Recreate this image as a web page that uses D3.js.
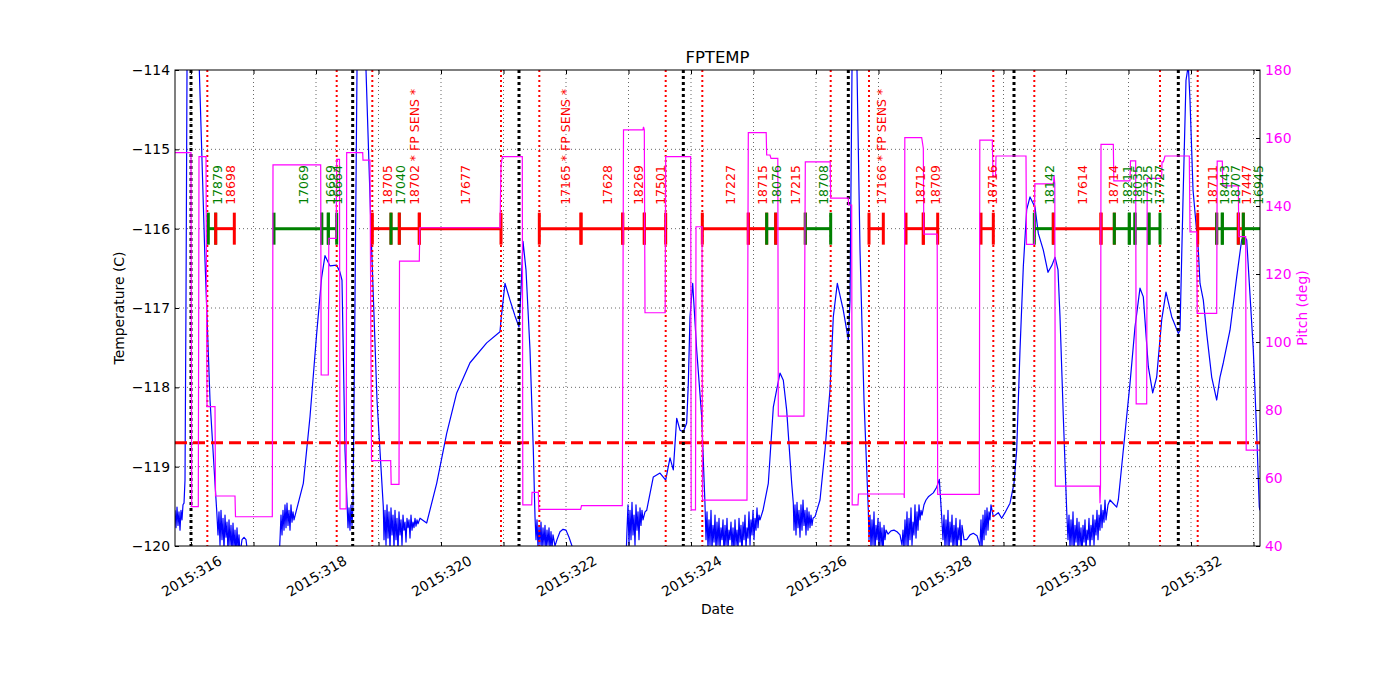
<!DOCTYPE html>
<html><head><meta charset="utf-8">
<script src="https://cdn.jsdelivr.net/npm/d3@7"></script>
<style>body{margin:0;background:#fff} text{font-family:"DejaVu Sans",sans-serif}</style>
</head><body><svg id="c" width="1400" height="700"></svg>
<script>
// ---------------- data ----------------
const chartTitle = "FPTEMP";
const dayTicks = [316,317,318,319,320,321,322,323,324,325,326,327,328,329,330,331,332,333];
const dayLabels = ["2015:316","","2015:318","","2015:320","","2015:322","","2015:324","","2015:326","","2015:328","","2015:330","","2015:332",""];
const tempTicks = [-120,-119,-118,-117,-116,-115,-114];
const pitchTicks = [40,60,80,100,120,140,160,180];
const tempLimit = -118.7;
const radZoneTimes = [316.261,318.331,318.901,320.960,321.573,323.595,324.181,326.235,326.848,328.837,329.493,331.504,332.107];
const perigeeTimes = [316.000,318.587,321.248,323.877,326.517,329.168,331.797];
const obsStart = [316.277,316.395,317.328,318.091,318.197,318.901,319.200,319.333,319.653,321.573,322.240,322.907,323.253,324.181,324.917,325.211,325.355,325.829,326.848,327.440,327.717,328.640,329.493,329.797,330.560,330.773,331.013,331.104,331.328,332.107,332.411,332.501,332.757,332.837];
const obsStop  = [316.395,316.693,318.091,318.197,318.331,319.200,319.333,319.653,320.960,322.240,322.907,323.253,323.595,324.917,325.211,325.355,325.829,326.235,327.077,327.717,327.947,328.837,329.797,330.560,330.773,331.013,331.104,331.328,331.504,332.411,332.501,332.757,332.837,333.144];
const obsKind  = ["g","r","g","g","g","r","g","r","r","r","r","r","r","r","r","g","r","g","r","r","r","r","g","r","r","g","g","g","g","r","g","g","r","g"];
const obsLabel = ["17879","18698","17069","16669","16664","18705","17040","18702 * FP SENS *","17677","17165 * FP SENS *","17628","18269","17501","17227","18715","18076","17215","18708","17166 * FP SENS *","18712","18709","18716","18142","17614","18714","18211","18035","17325","17727","18711","18443","18707","17447","16945"];

const pitchData = [
[315.744,155.7],[316.000,155.7],[316.011,51.6],[316.117,51.6],[316.128,154.5],[316.240,154.5],[316.256,81.0],[316.384,81.0],
[316.392,54.7],[316.704,54.7],[316.712,48.6],[317.301,48.6],[317.312,152.1],[318.075,152.1],[318.083,90.3],[318.197,90.3],
[318.205,130.5],[318.323,130.5],[318.331,153.7],[318.376,153.7],[318.384,50.9],[318.483,50.9],[318.491,155.7],[318.747,155.7],
[318.752,153.5],[318.864,153.5],[318.888,65.1],[319.195,65.1],[319.203,58.1],[319.328,58.1],[319.336,123.8],[319.653,123.8],
[319.661,133.6],[320.944,133.6],[320.960,152.1],[320.984,154.5],[321.301,154.5],[321.309,52.1],[321.451,52.1],[321.456,55.8],
[321.557,55.8],[321.565,50.8],[322.235,50.8],[322.248,51.9],[322.901,51.9],[322.920,162.4],[323.232,162.4],[323.240,163.3],
[323.253,162.4],[323.264,108.6],[323.587,108.6],[323.595,154.5],[323.995,154.5],[324.003,50.6],[324.072,50.6],[324.080,133.9],
[324.176,133.9],[324.184,53.5],[324.896,53.5],[324.917,161.6],[325.203,161.6],[325.211,155.0],[325.264,155.0],[325.280,154.0],
[325.389,154.0],[325.397,78.2],[325.808,78.2],[325.829,153.0],[326.227,153.0],[326.235,142.3],[326.517,142.3],[326.520,140.3],
[326.571,140.3],[326.579,52.1],[326.672,52.1],[326.680,55.3],[327.408,55.3],[327.413,54.1],[327.421,160.1],[327.691,160.1],
[327.717,157.0],[327.725,131.7],[327.939,131.7],[327.947,55.2],[328.613,55.2],[328.621,159.4],[328.821,159.4],[328.832,148.6],
[328.872,148.6],[328.880,154.7],[329.360,154.7],[329.368,128.7],[329.493,128.7],[329.501,146.5],[329.800,146.5],[329.808,149.1],
[329.821,146.5],[329.829,57.6],[330.539,57.6],[330.544,52.6],[330.552,57.6],[330.560,158.1],[330.757,158.1],[330.765,147.4],
[331.024,147.4],[331.032,153.3],[331.115,153.3],[331.123,81.8],[331.291,81.8],[331.299,148.1],[331.531,148.1],[331.536,153.0],
[331.557,153.0],[331.584,154.7],[331.973,154.7],[331.984,132.4],[332.091,132.4],[332.099,108.4],[332.411,108.4],[332.419,153.2],
[332.501,153.2],[332.509,145.9],[332.757,145.9],[332.765,131.0],[332.875,131.0],[332.883,68.2],[333.104,68.2]
];

const tempData = [
[315.744,-119.55],[315.760,-119.77],[315.776,-119.51],[315.792,-119.74],[315.808,-119.57],[315.824,-119.80],[315.840,-119.55],[315.856,-119.67],
[315.872,-119.48],[315.888,-119.46],[315.904,-119.17],[315.920,-116.90],[315.936,-114.00],[315.984,-112.49],[316.133,-114.00],[316.224,-116.40],
[316.304,-118.16],[316.384,-119.21],[316.411,-119.55],
[316.432,-119.86],[316.448,-119.57],[316.464,-119.99],[316.480,-119.55],[316.496,-119.92],[316.512,-119.65],[316.528,-120.05],[316.544,-119.61],
[316.560,-119.89],[316.576,-119.70],[316.592,-120.08],[316.608,-119.67],[316.624,-119.99],[316.640,-119.74],[316.656,-120.11],[316.672,-119.71],
[316.688,-120.03],[316.704,-119.80],[316.720,-120.11],[316.736,-119.77],[316.752,-120.05],[316.768,-119.86],[316.784,-120.11],[316.816,-119.92],
[316.848,-119.89],[316.880,-119.92],[316.912,-120.13],[317.024,-120.37],[317.264,-120.37],[317.408,-120.18],
[317.424,-119.92],[317.440,-119.61],[317.456,-119.86],[317.472,-119.55],[317.488,-119.80],[317.504,-119.48],[317.520,-119.77],[317.536,-119.46],
[317.552,-119.74],[317.568,-119.55],[317.584,-119.80],[317.600,-119.48],[317.616,-119.70],[317.632,-119.57],[317.648,-119.67],[317.664,-119.62],
[317.797,-119.21],[317.904,-118.37],[318.011,-117.32],[318.091,-116.61],[318.144,-116.34],[318.224,-116.47],[318.331,-116.46],[318.384,-116.55],
[318.416,-116.65],[318.464,-118.79],[318.512,-119.77],[318.528,-119.52],[318.544,-119.80],[318.560,-119.48],[318.576,-119.74],[318.592,-119.48],
[318.624,-116.90],[318.656,-114.00],[318.704,-112.36],[318.800,-114.00],[318.891,-116.27],[318.976,-118.16],[319.077,-119.51],
[319.088,-119.92],[319.104,-119.55],[319.120,-119.99],[319.136,-119.48],[319.152,-119.90],[319.168,-119.57],[319.184,-120.05],[319.200,-119.52],
[319.216,-119.86],[319.232,-119.61],[319.248,-120.03],[319.264,-119.55],[319.280,-119.92],[319.296,-119.65],[319.312,-120.08],[319.328,-119.57],
[319.344,-119.86],[319.360,-119.67],[319.376,-119.99],[319.392,-119.61],[319.408,-119.80],[319.424,-119.70],[319.440,-119.95],[319.456,-119.65],
[319.472,-119.77],[319.488,-119.67],[319.504,-119.90],[319.520,-119.61],[319.536,-119.80],[319.552,-119.70],[319.568,-119.77],[319.584,-119.65],
[319.600,-119.75],[319.616,-119.67],[319.632,-119.72],[319.664,-119.65],[319.771,-119.71],[319.931,-119.21],[320.091,-118.58],[320.251,-118.07],
[320.464,-117.69],[320.731,-117.44],[320.944,-117.30],[320.960,-117.15],[321.024,-116.69],[321.104,-116.90],[321.184,-117.10],[321.248,-117.24],
[321.280,-116.77],[321.312,-116.16],[321.360,-116.52],[321.424,-117.53],[321.477,-118.79],[321.504,-119.63],
[321.520,-119.92],[321.536,-119.67],[321.552,-120.03],[321.568,-119.74],[321.584,-119.99],[321.600,-119.70],[321.616,-120.05],[321.632,-119.77],
[321.648,-119.99],[321.664,-119.74],[321.680,-120.08],[321.696,-119.80],[321.712,-119.99],[321.728,-119.77],[321.744,-120.05],[321.760,-119.82],
[321.776,-120.03],[321.792,-119.86],[321.824,-120.00],[321.856,-119.92],[321.904,-119.82],[321.952,-119.79],[322.000,-119.80],[322.048,-119.89],
[322.096,-120.00],[322.144,-120.24],[322.544,-120.43],[322.960,-120.18],
[322.976,-119.80],[322.992,-119.48],[323.008,-119.99],[323.024,-119.55],[323.040,-119.92],[323.056,-119.45],[323.072,-119.86],[323.088,-119.61],
[323.104,-119.99],[323.120,-119.48],[323.136,-119.80],[323.152,-119.57],[323.168,-119.92],[323.184,-119.52],[323.200,-119.74],[323.216,-119.55],
[323.232,-119.67],[323.264,-119.57],[323.291,-119.55],[323.397,-119.13],[323.504,-119.08],[323.595,-119.17],[323.664,-118.89],[323.717,-119.04],
[323.771,-118.39],[323.824,-118.54],[323.877,-118.56],[323.931,-118.45],[323.957,-117.95],[323.984,-117.11],[324.027,-116.69],[324.091,-117.53],
[324.171,-118.37],[324.224,-119.48],
[324.240,-119.92],[324.256,-119.57],[324.272,-120.03],[324.288,-119.67],[324.304,-119.99],[324.320,-119.55],[324.336,-120.05],[324.352,-119.74],
[324.368,-119.95],[324.384,-119.61],[324.400,-120.08],[324.416,-119.70],[324.432,-119.99],[324.448,-119.65],[324.464,-120.05],[324.480,-119.77],
[324.496,-119.92],[324.512,-119.67],[324.528,-120.11],[324.544,-119.74],[324.560,-119.99],[324.576,-119.65],[324.592,-120.05],[324.608,-119.80],
[324.624,-119.92],[324.640,-119.70],[324.656,-120.03],[324.672,-119.77],[324.688,-120.08],[324.704,-119.67],[324.720,-119.99],[324.736,-119.80],
[324.752,-120.05],[324.768,-119.65],[324.784,-119.95],[324.800,-119.74],[324.816,-120.11],[324.832,-119.70],[324.848,-119.92],[324.864,-119.61],
[324.880,-120.03],[324.896,-119.77],[324.912,-119.90],[324.928,-119.57],[324.944,-119.99],[324.960,-119.67],[324.976,-119.86],[324.992,-119.55],
[325.008,-119.92],[325.024,-119.65],[325.040,-119.80],[325.056,-119.52],[325.072,-119.77],[325.088,-119.61],[325.104,-119.67],[325.152,-119.55],
[325.237,-119.21],[325.317,-118.25],[325.371,-118.03],[325.424,-117.82],[325.477,-117.91],[325.531,-118.29],[325.611,-119.21],[325.637,-119.46],
[325.648,-119.80],[325.664,-119.48],[325.680,-119.86],[325.696,-119.45],[325.712,-119.77],[325.728,-119.55],[325.744,-119.89],[325.760,-119.48],
[325.776,-119.80],[325.792,-119.42],[325.808,-119.74],[325.824,-119.55],[325.840,-119.86],[325.856,-119.52],[325.872,-119.80],[325.888,-119.57],
[325.904,-119.77],[325.920,-119.61],[325.936,-119.74],[325.952,-119.65],[325.984,-119.63],[326.064,-119.42],[326.144,-118.79],[326.224,-118.03],
[326.277,-117.11],[326.341,-116.69],[326.437,-117.03],[326.517,-117.40],[326.544,-116.90],[326.576,-114.00],[326.608,-112.11],[326.656,-114.00],
[326.704,-116.27],[326.768,-118.16],[326.837,-119.55],
[326.848,-119.92],[326.864,-119.61],[326.880,-120.03],[326.896,-119.67],[326.912,-119.99],[326.928,-119.57],[326.944,-120.08],[326.960,-119.74],
[326.976,-119.92],[326.992,-119.65],[327.008,-120.05],[327.024,-119.70],[327.040,-119.99],[327.056,-119.77],[327.072,-120.11],[327.088,-119.74],
[327.104,-119.92],[327.120,-119.80],[327.152,-119.85],[327.200,-119.81],[327.248,-119.80],[327.296,-119.82],[327.344,-119.86],[327.376,-119.99],
[327.392,-119.80],[327.408,-120.05],[327.424,-119.67],[327.440,-119.99],[327.456,-119.57],[327.472,-120.05],[327.488,-119.65],[327.504,-119.92],
[327.520,-119.52],[327.536,-119.99],[327.552,-119.70],[327.568,-119.86],[327.584,-119.48],[327.600,-119.90],[327.616,-119.57],[327.632,-119.80],
[327.648,-119.48],[327.664,-119.67],[327.680,-119.55],[327.696,-119.61],[327.728,-119.48],[327.760,-119.42],[327.797,-119.38],[327.877,-119.33],
[327.931,-119.26],[327.973,-119.16],[328.011,-119.63],
[328.032,-119.92],[328.048,-119.61],[328.064,-120.03],[328.080,-119.67],[328.096,-119.99],[328.112,-119.55],[328.128,-120.08],[328.144,-119.70],
[328.160,-119.95],[328.176,-119.61],[328.192,-120.05],[328.208,-119.74],[328.224,-119.99],[328.240,-119.65],[328.256,-120.11],[328.272,-119.77],
[328.288,-119.92],[328.304,-119.67],[328.320,-120.05],[328.336,-119.74],[328.368,-119.92],[328.411,-119.92],[328.464,-119.86],[328.517,-119.84],
[328.576,-119.87],[328.624,-120.00],[328.640,-119.67],[328.656,-120.05],[328.672,-119.61],[328.688,-119.92],[328.704,-119.55],[328.720,-119.86],
[328.736,-119.52],[328.752,-119.80],[328.768,-119.57],[328.784,-119.67],[328.800,-119.48],[328.837,-119.63],[328.917,-119.58],[328.971,-119.65],
[329.024,-119.58],[329.104,-119.46],[329.168,-119.21],[329.211,-118.79],[329.264,-117.53],[329.317,-116.48],[329.371,-115.76],[329.424,-115.60],
[329.504,-115.73],[329.557,-116.06],[329.637,-116.27],[329.712,-116.55],[329.776,-116.46],[329.824,-116.36],[329.872,-116.52],[329.904,-117.11],
[329.957,-118.37],[330.011,-119.55],
[330.032,-119.92],[330.048,-119.61],[330.064,-120.03],[330.080,-119.67],[330.096,-119.99],[330.112,-119.57],[330.128,-120.08],[330.144,-119.74],
[330.160,-119.95],[330.176,-119.65],[330.192,-120.05],[330.208,-119.70],[330.224,-119.99],[330.240,-119.77],[330.256,-120.11],[330.272,-119.74],
[330.288,-119.95],[330.304,-119.67],[330.320,-120.05],[330.336,-119.80],[330.352,-119.92],[330.368,-119.65],[330.384,-120.03],[330.400,-119.74],
[330.416,-119.92],[330.432,-119.61],[330.448,-119.99],[330.464,-119.67],[330.480,-119.86],[330.496,-119.55],[330.512,-119.92],[330.528,-119.61],
[330.544,-119.80],[330.560,-119.48],[330.576,-119.77],[330.592,-119.55],[330.608,-119.70],[330.624,-119.42],[330.640,-119.67],[330.672,-119.48],
[330.704,-119.42],[330.811,-119.51],[330.837,-119.42],[330.917,-118.79],[331.024,-117.95],[331.104,-117.24],[331.184,-116.75],[331.237,-116.86],
[331.317,-117.74],[331.387,-118.07],[331.451,-117.87],[331.531,-117.15],[331.600,-116.80],[331.691,-117.11],[331.797,-117.32],[331.824,-117.28],
[331.872,-115.64],[331.920,-114.13],[331.957,-113.94],[331.984,-114.38],[332.032,-115.51],[332.117,-116.27],[332.144,-116.69],[332.197,-116.90],
[332.251,-117.32],[332.331,-117.87],[332.411,-118.16],[332.464,-117.87],[332.517,-117.69],[332.624,-117.28],[332.731,-116.61],[332.811,-116.14],
[332.848,-116.09],[332.891,-116.14],[332.917,-116.48],[332.997,-117.53],[333.051,-118.58],[333.093,-119.51],[333.104,-119.55]
];

// ---------------- chart ----------------
const W = 1400, H = 700;
const M = {left:175, right:1260, top:70, bottom:546};
const svg = d3.select("#c");
const x = d3.scaleLinear().domain([315.744, 333.104]).range([M.left, M.right]);
const y = d3.scaleLinear().domain([-120, -114]).range([M.bottom, M.top]);
const y2 = d3.scaleLinear().domain([40, 180]).range([M.bottom, M.top]);
const colors = {g:"#008000", r:"#ff0000"};
const tickFont = 13.9;

svg.append("rect").attr("width",W).attr("height",H).attr("fill","#fff");
svg.append("defs").append("clipPath").attr("id","clip").append("rect")
  .attr("x",M.left).attr("y",M.top).attr("width",M.right-M.left).attr("height",M.bottom-M.top);

// grid
const grid = svg.append("g").attr("stroke","#000").attr("stroke-width",0.6).attr("stroke-dasharray","1,3");
grid.selectAll(".gx").data(dayTicks).join("line")
  .attr("x1",d=>x(d)).attr("x2",d=>x(d)).attr("y1",M.top).attr("y2",M.bottom);
grid.selectAll(".gy").data(tempTicks.slice(1,-1)).join("line")
  .attr("y1",d=>y(d)).attr("y2",d=>y(d)).attr("x1",M.left).attr("x2",M.right);

const plot = svg.append("g").attr("clip-path","url(#clip)");

// temperature
plot.append("path").datum(tempData)
  .attr("fill","none").attr("stroke","#0000ff").attr("stroke-width",1.2).attr("stroke-linejoin","round")
  .attr("d", d3.line().x(d=>x(d[0])).y(d=>y(d[1])));

// limit line
plot.append("line").attr("x1",M.left).attr("x2",M.right).attr("y1",y(tempLimit)).attr("y2",y(tempLimit))
  .attr("stroke","#ff0000").attr("stroke-width",3).attr("stroke-dasharray","12,6");

// radiation zone lines & perigee lines
plot.selectAll(".rz").data(radZoneTimes).join("line")
  .attr("x1",d=>x(d)).attr("x2",d=>x(d)).attr("y1",M.top).attr("y2",M.bottom)
  .attr("stroke","#ff0000").attr("stroke-width",2).attr("stroke-dasharray","2,3");
plot.selectAll(".pg").data(perigeeTimes).join("line")
  .attr("x1",d=>x(d)).attr("x2",d=>x(d)).attr("y1",M.top).attr("y2",M.bottom)
  .attr("stroke","#000").attr("stroke-width",3).attr("stroke-dasharray","3,3");

// observations
const obsY = y(-116);
obsStart.forEach((s,i)=>{
  const c = colors[obsKind[i]];
  const g = plot.append("g").attr("stroke",c).attr("stroke-width",3);
  g.append("line").attr("x1",x(s)).attr("x2",x(obsStop[i])).attr("y1",obsY).attr("y2",obsY);
  [s, obsStop[i]].forEach(t=>{
    g.append("line").attr("x1",x(t)).attr("x2",x(t)).attr("y1",obsY-16).attr("y2",obsY+16);
  });
});
obsStart.forEach((s,i)=>{
  const mx = x((s+obsStop[i])/2), my = y(-115.7);
  svg.append("text").attr("x",mx).attr("y",my).attr("dy","0.8em")
    .attr("transform",`rotate(-90,${mx},${my})`)
    .attr("font-size",12.5).attr("fill",colors[obsKind[i]]).text(obsLabel[i]);
});

// pitch
plot.append("path").datum(pitchData)
  .attr("fill","none").attr("stroke","#ff00ff").attr("stroke-width",1.2)
  .attr("d", d3.line().x(d=>x(d[0])).y(d=>y2(d[1])));

// frame
svg.append("rect").attr("x",M.left).attr("y",M.top).attr("width",M.right-M.left).attr("height",M.bottom-M.top)
  .attr("fill","none").attr("stroke","#000").attr("stroke-width",1);

// axes
const fmtDay = d => dayLabels[dayTicks.indexOf(d)];
const ax = svg.append("g").attr("transform",`translate(0,${M.bottom})`)
  .call(d3.axisBottom(x).tickValues(dayTicks).tickSizeInner(-4).tickSizeOuter(0).tickFormat(fmtDay));
ax.select(".domain").remove();
ax.selectAll("text").attr("y",0).attr("dy",null).attr("font-size",tickFont).attr("fill","#000")
  .attr("font-family","DejaVu Sans")
  .attr("text-anchor","middle").attr("dominant-baseline","central")
  .attr("transform","translate(0,30) rotate(-30)");
const axt = svg.append("g").attr("transform",`translate(0,${M.top})`)
  .call(d3.axisTop(x).tickValues(dayTicks).tickSizeInner(-4).tickSizeOuter(0).tickFormat(""));
axt.select(".domain").remove();

const ay = svg.append("g").attr("transform",`translate(${M.left},0)`)
  .call(d3.axisLeft(y).tickValues(tempTicks).tickSizeInner(-4).tickSizeOuter(0).tickPadding(5).tickFormat(d3.format("d")));
ay.select(".domain").remove();
ay.selectAll("text").attr("font-size",tickFont).attr("font-family","DejaVu Sans").attr("fill","#000");

const ay2 = svg.append("g").attr("transform",`translate(${M.right},0)`)
  .call(d3.axisRight(y2).tickValues(pitchTicks).tickSizeInner(-4).tickSizeOuter(0).tickPadding(5).tickFormat(d3.format("d")));
ay2.select(".domain").remove();
ay2.selectAll("text").attr("font-size",tickFont).attr("font-family","DejaVu Sans").attr("fill","#ff00ff");

// labels
svg.append("text").attr("x",(M.left+M.right)/2).attr("y",63).attr("text-anchor","middle")
  .attr("font-size",16.5).text(chartTitle);
svg.append("text").attr("x",(M.left+M.right)/2).attr("y",614).attr("text-anchor","middle")
  .attr("font-size",13.9).text("Date");
svg.append("text").attr("transform",`translate(124,${(M.top+M.bottom)/2}) rotate(-90)`).attr("text-anchor","middle")
  .attr("font-size",13.9).text("Temperature (C)");
svg.append("text").attr("transform",`translate(1307,${(M.top+M.bottom)/2}) rotate(-90)`).attr("text-anchor","middle")
  .attr("font-size",13.9).attr("fill","#ff00ff").text("Pitch (deg)");
</script></body></html>
